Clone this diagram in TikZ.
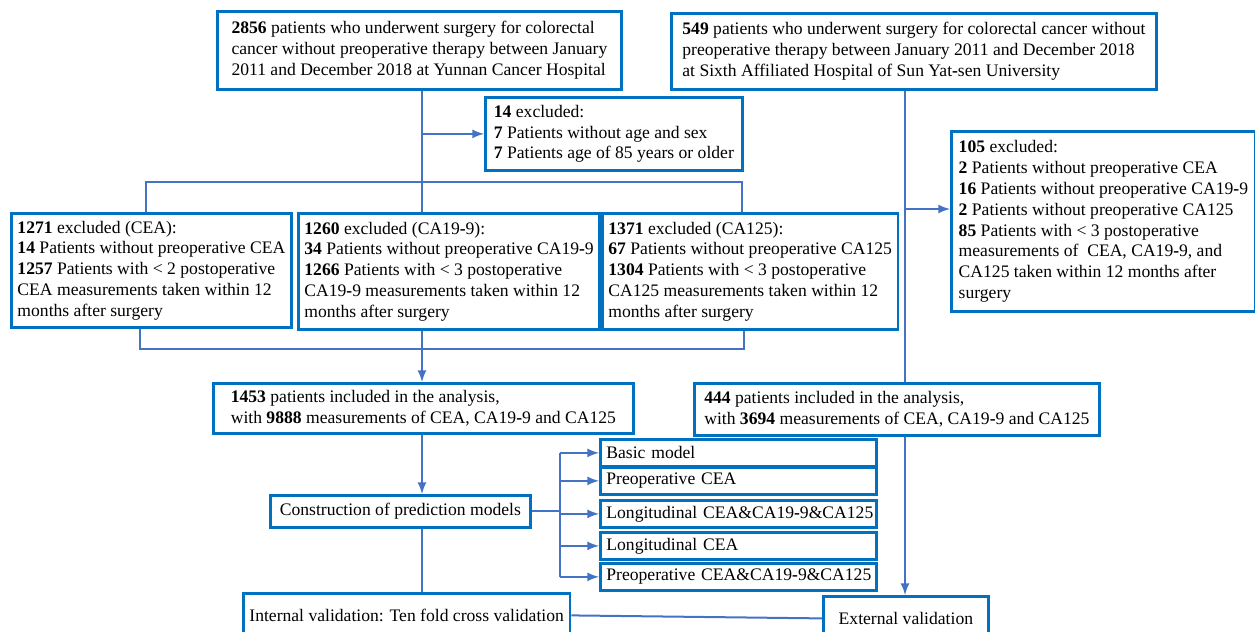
\documentclass[tikz,border=0pt]{standalone}
\usepackage{fontspec}
\setmainfont{Liberation Serif}
\usetikzlibrary{arrows}
\usetikzlibrary{calc}
\usetikzlibrary{positioning}

\definecolor{boxblue}{RGB}{0,112,192}
\definecolor{lineblue}{RGB}{68,114,196}

\begin{document}
\begin{tikzpicture}[x=0.5pt,y=-0.5pt]
        \tikzstyle{box}=[draw=boxblue, line width=1.4pt, anchor=north west, align=left, inner xsep=3pt, inner ysep=1pt, font=\fontsize{8.8pt}{10.4pt}\selectfont]
        \tikzstyle{cbox}=[box, align=center]
        \tikzstyle{mdl}=[box, text width=132pt, minimum height=13.5pt]
        \tikzstyle{link}=[draw=lineblue, line width=1pt]
        \tikzstyle{flow}=[draw=lineblue, line width=1pt, -latex]

        \newcommand{\bh}{\textbf{-}}

        \useasboundingbox (0,0) rectangle (1255,632);
        \clip (0,0) rectangle (1255,632);

        % cohorts
        \node (yn) at (216,10) [box, minimum width=202pt, minimum height=39pt]{\textbf{2856} patients who underwent surgery for colorectal\\cancer without preoperative therapy between January\\2011 and December 2018 at Yunnan Cancer Hospital};
        \node (sy) at (670,12) [box, minimum width=242.5pt, minimum height=38pt]{\textbf{549} patients who underwent surgery for colorectal cancer without\\preoperative therapy between January 2011 and December 2018\\at Sixth Affiliated Hospital of Sun Yat\bh sen University};

        % exclusions
        \node (ex0) at (484,96) [box, minimum width=128.5pt, minimum height=36.5pt]{\textbf{14} excluded:\\\textbf{7} Patients without age and sex\\\textbf{7} Patients age of 85 years or older};
        \node (exc) at (10,212) [box, minimum width=140pt, minimum height=57pt]{\textbf{1271} excluded (CEA):\\\textbf{14} Patients without preoperative CEA\\\textbf{1257} Patients with < 2 postoperative\\CEA measurements taken within 12\\months after surgery};
        \node (exd) at (297,212) [box, minimum width=149.5pt, minimum height=58pt]{\textbf{1260} excluded (CA19\bh 9):\\\textbf{34} Patients without preoperative CA19\bh 9\\\textbf{1266} Patients with < 3 postoperative\\CA19\bh 9 measurements taken within 12\\months after surgery};
        \node (exf) at (601,212) [box, minimum width=147.5pt, minimum height=58pt]{\textbf{1371} excluded (CA125):\\\textbf{67} Patients without preoperative CA125\\\textbf{1304} Patients with < 3 postoperative\\CA125 measurements taken within 12\\months after surgery};
        \node (exv) at (950,130) [box, minimum width=152pt, minimum height=90pt]{\textbf{105} excluded:\\\textbf{2} Patients without preoperative CEA\\\textbf{16} Patients without preoperative CA19\bh 9\\\textbf{2} Patients without preoperative CA125\\\textbf{85} Patients with < 3 postoperative\\measurements of~ CEA, CA19\bh 9, and\\CA125 taken within 12 months after\\surgery};

        % included
        \node (inc) at (212,382) [box, minimum width=210pt, minimum height=25pt]{\textbf{1453} patients included in the analysis,\\with \textbf{9888} measurements of CEA, CA19\bh 9 and CA125};
        \node (inv) at (693,382) [box, minimum width=202.5pt, minimum height=26pt]{\textbf{444} patients included in the analysis,\\with \textbf{3694} measurements of CEA, CA19\bh 9 and CA125};

        % models
        \node (cons) at (269,494) [cbox, minimum width=130pt, minimum height=16pt]{Construction of prediction models};
        \node (m1) at (599,438) [mdl]{Basic model};
        \node (m2) at (599,466) [mdl]{Preoperative CEA};
        \node (m3) at (599,499) [mdl]{\mbox{Longitudinal CEA\&CA19\bh 9\&CA125}};
        \node (m4) at (599,531) [mdl]{Longitudinal CEA};
        \node (m5) at (599,562) [mdl]{\mbox{Preoperative CEA\&CA19\bh 9\&CA125}};

        % validation
        \node (intv) at (242,592) [cbox, minimum width=162pt, minimum height=22pt]{Internal validation: Ten fold cross validation};
        \node (extv) at (822,595) [cbox, minimum width=82.5pt, minimum height=22pt]{External validation};

        \coordinate (split) at (422,182);
        \coordinate (merge) at (422,349);
        \coordinate (rt) at (905,209);
        \coordinate (fork) at (560,510);

        % left flow
        \draw[link] (yn.south -| split) -- (split) -- (split |- exd.north);
        \draw[flow] (split |- ex0.west) -- (ex0.west);
        \draw[link] (exc.north -| 146,0) |- (split) -| (exf.north -| 742,0);
        \draw[link] (exc.south -| 140,0) |- (merge) -| (exf.south -| 744,0);
        \draw[flow] (merge |- exd.south) -- (merge |- inc.north);
        \draw[flow] (merge |- inc.south) -- (merge |- cons.north);

        % right flow
        \draw[link] (sy.south -| rt) -- (rt) -- (rt |- inv.north);
        \draw[flow] (rt) -- (rt -| exv.west);
        \draw[flow] (inv.south -| rt) -- (rt |- extv.north);

        % models
        \draw[link] (cons.east) -- (cons.east -| fork);
        \draw[link] (fork |- m1.west) -- (fork |- m5.west);
        \foreach \m in {m1,m2,m3,m4,m5}
            \draw[flow] (fork |- \m.west) -- (\m.west);

        \draw[draw=lineblue, line width=1.4pt] (merge |- cons.south) -- (merge |- intv.north);
        \draw[link] (intv.east) -- (extv.west);

\end{tikzpicture}
\end{document}
